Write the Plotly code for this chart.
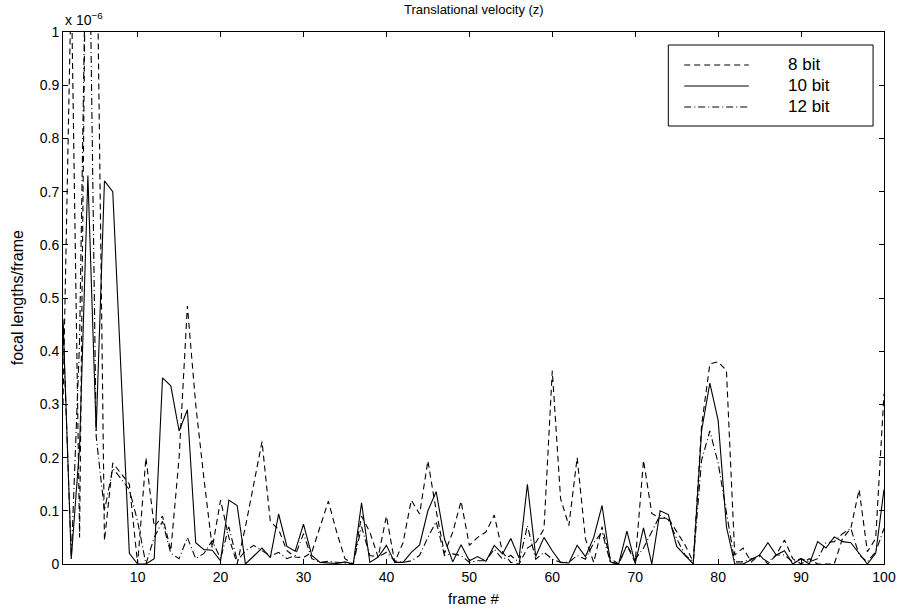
import plotly.graph_objects as go

frames = list(range(1, 101))

# values in units of 1e-6 focal lengths/frame
bit8 = [0.30, 1.10, 0.05, 1.60, 1.30, 0.044, 0.19, 0.17, 0.15, 0.0,
        0.20, 0.07, 0.09, 0.025, 0.20, 0.485, 0.30, 0.16, 0.03, 0.12,
        0.05, 0.0, 0.07, 0.15, 0.23, 0.08, 0.065, 0.025, 0.013, 0.012,
        0.022, 0.07, 0.118, 0.06, 0.01, 0.0, 0.09, 0.06, 0.013, 0.09,
        0.003, 0.04, 0.12, 0.094, 0.194, 0.10, 0.02, 0.06, 0.118, 0.035,
        0.05, 0.06, 0.092, 0.022, 0.003, 0.0, 0.03, 0.04, 0.066, 0.363,
        0.123, 0.072, 0.20, 0.047, 0.003, 0.07, 0.01, 0.0, 0.035, 0.003,
        0.195, 0.095, 0.086, 0.086, 0.06, 0.036, 0.004, 0.26, 0.376, 0.38,
        0.364, 0.017, 0.03, 0.004, 0.017, 0.0, 0.017, 0.045, 0.01, 0.0,
        0.01, 0.0, 0.0, 0.0, 0.048, 0.067, 0.14, 0.023, 0.048, 0.32]

bit10 = [0.46, 0.01, 0.22, 0.73, 0.25, 0.72, 0.70, 0.36, 0.02, 0.0,
         0.0, 0.01, 0.35, 0.335, 0.25, 0.29, 0.04, 0.027, 0.026, 0.006,
         0.12, 0.11, 0.0, 0.015, 0.03, 0.012, 0.094, 0.033, 0.024, 0.075,
         0.016, 0.003, 0.002, 0.001, 0.004, 0.0, 0.115, 0.003, 0.013, 0.035,
         0.003, 0.003, 0.022, 0.036, 0.10, 0.136, 0.047, 0.004, 0.036, 0.006,
         0.014, 0.005, 0.035, 0.019, 0.048, 0.011, 0.15, 0.014, 0.05, 0.025,
         0.003, 0.002, 0.035, 0.014, 0.05, 0.11, 0.004, 0.0, 0.062, 0.001,
         0.068, 0.0, 0.10, 0.093, 0.033, 0.017, 0.0, 0.25, 0.34, 0.27,
         0.07, 0.0, 0.0, 0.008, 0.017, 0.04, 0.017, 0.025, 0.0, 0.01,
         0.0, 0.042, 0.03, 0.051, 0.042, 0.04, 0.02, 0.0, 0.02, 0.14]

bit12 = [0.45, 0.01, 0.42, 1.42, 0.24, 0.10, 0.18, 0.16, 0.14, 0.08,
         0.0, 0.05, 0.08, 0.02, 0.01, 0.05, 0.01, 0.02, 0.044, 0.01,
         0.07, 0.006, 0.025, 0.035, 0.025, 0.015, 0.022, 0.01, 0.016, 0.057,
         0.01, 0.003, 0.005, 0.003, 0.002, 0.0, 0.07, 0.016, 0.013, 0.022,
         0.006, 0.003, 0.006, 0.016, 0.05, 0.08, 0.016, 0.019, 0.016, 0.003,
         0.006, 0.006, 0.028, 0.009, 0.016, 0.003, 0.072, 0.009, 0.022, 0.009,
         0.003, 0.003, 0.016, 0.009, 0.04, 0.06, 0.003, 0.0, 0.035, 0.009,
         0.03, 0.06, 0.092, 0.083, 0.048, 0.017, 0.004, 0.195, 0.25, 0.19,
         0.098, 0.004, 0.004, 0.01, 0.014, 0.004, 0.017, 0.017, 0.004, 0.01,
         0.004, 0.01, 0.04, 0.042, 0.057, 0.067, 0.017, 0.004, 0.023, 0.067]

series_names = ["8 bit", "10 bit", "12 bit"]
xticks = list(range(10, 101, 10))
yticks = [round(0.1 * i, 1) for i in range(11)]

FONT = "Liberation Sans, Arial, Helvetica, sans-serif"
dashes = ["6px,4px", "solid", "7px,3px,1px,3px"]

fig = go.Figure()
for name, ys, d in zip(series_names, [bit8, bit10, bit12], dashes):
    fig.add_trace(go.Scatter(x=frames, y=ys, mode="lines", name=name,
                             line=dict(color="black", width=1.1, dash=d),
                             showlegend=False))

axis_common = dict(showline=True, linecolor="black", linewidth=1, mirror="ticks",
                   ticks="inside", ticklen=5, tickcolor="black", showgrid=False,
                   zeroline=False, tickfont=dict(family=FONT, size=14, color="black"))

fig.update_layout(
    width=908, height=610,
    margin=dict(l=63, r=19, t=32, b=46),
    paper_bgcolor="white", plot_bgcolor="white",
    font=dict(family=FONT, color="black"),
    xaxis=dict(range=[1, 100], tickvals=xticks, **axis_common),
    yaxis=dict(range=[0, 1], tickvals=yticks,
               ticktext=[("%g" % v) for v in yticks], **axis_common),
)

ann = [
    dict(text="Translational velocity (z)", x=0.5, xref="paper", y=1 + 23 / 532, yref="paper",
         xanchor="center", yanchor="middle", showarrow=False, font=dict(size=13)),
    dict(text="frame #", x=0.5, xref="paper", y=-34 / 532, yref="paper",
         xanchor="center", yanchor="middle", showarrow=False, font=dict(size=15)),
    dict(text="focal lengths/frame", x=-46 / 826, xref="paper", y=0.5, yref="paper",
         xanchor="center", yanchor="middle", textangle=-90, showarrow=False, font=dict(size=16)),
    dict(text="x 10<sup>−6</sup>", x=0, xref="paper", y=1.0 + 2 / 532, yref="paper",
         xanchor="left", yanchor="bottom", showarrow=False, font=dict(size=14)),
]

# legend box drawn in paper coordinates
def px(x):
    return (x - 63) / 826

def py(y):
    return (564 - y) / 532

shapes = [dict(type="rect", xref="paper", yref="paper", x0=px(672), x1=px(878),
               y0=py(126), y1=py(45), line=dict(color="black", width=1), fillcolor="white")]
rows = [65, 86, 107]
for name, d, ry in zip(series_names, dashes, rows):
    shapes.append(dict(type="line", xref="paper", yref="paper", x0=px(688), x1=px(753),
                       y0=py(ry), y1=py(ry), line=dict(color="black", width=1, dash=d)))
    ann.append(dict(text=name, x=px(790), xref="paper", y=py(ry), yref="paper",
                    xanchor="left", yanchor="middle", showarrow=False, font=dict(size=17)))

fig.update_layout(annotations=ann, shapes=shapes)
fig.write_html("out.html")
